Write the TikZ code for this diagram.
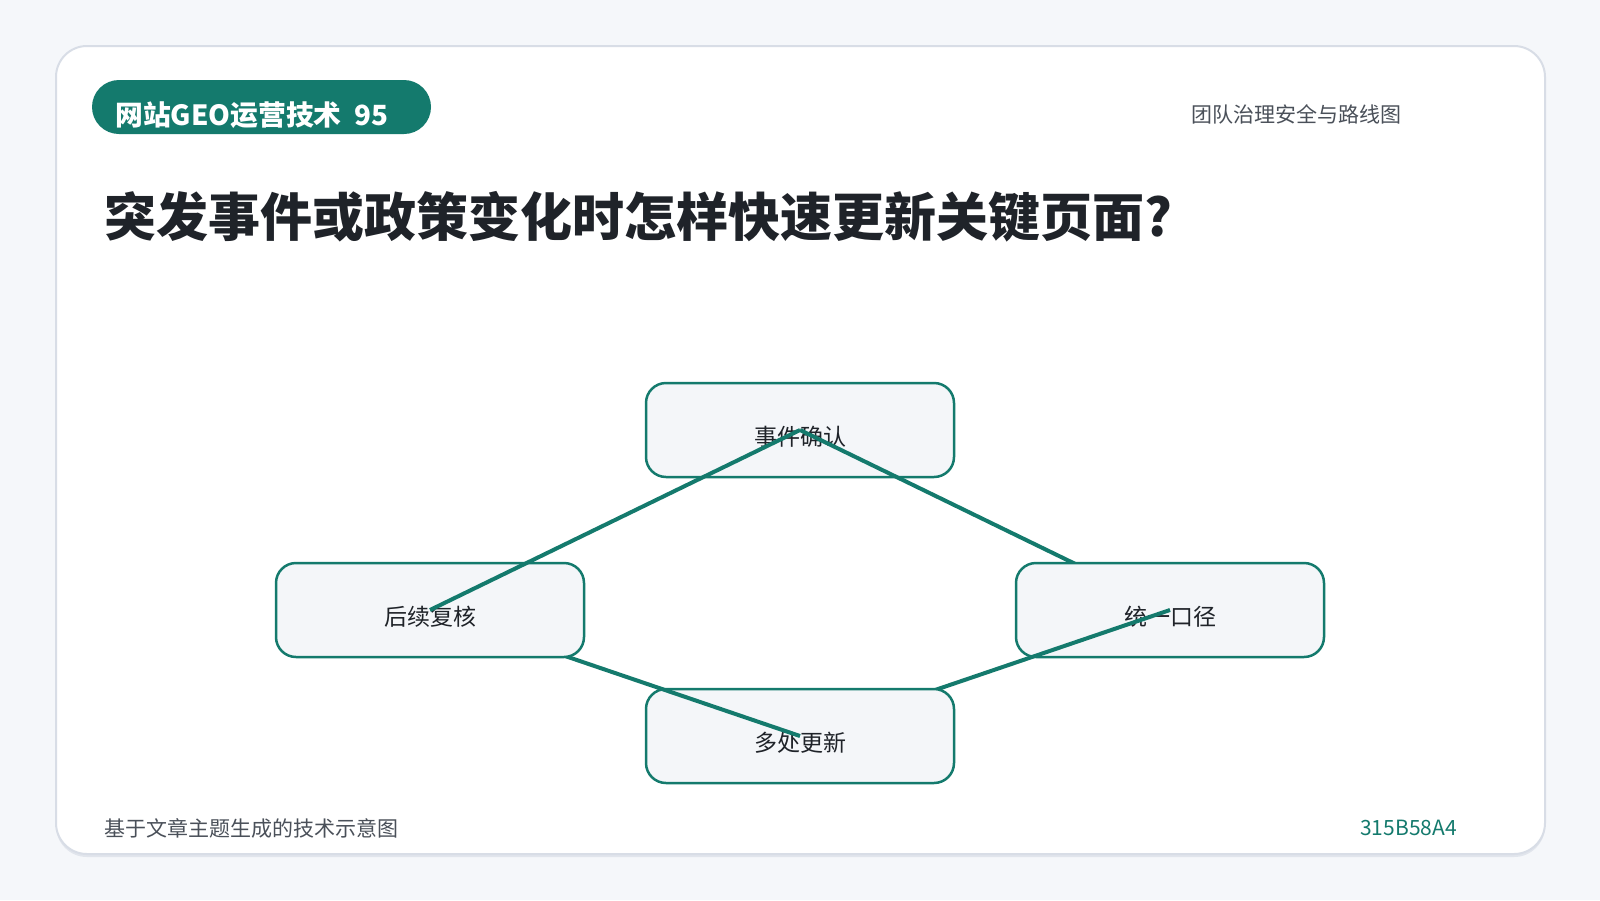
\documentclass[tikz,border=0pt]{standalone}
\usepackage{fontspec}
\setmainfont{Noto Sans CJK SC}
\usepackage{tikz}
\definecolor{PageGray}{HTML}{F5F7FA}
\definecolor{CardEdge}{HTML}{D8DDE6}
\definecolor{CardShade}{HTML}{E1E5EC}
\definecolor{GeoTeal}{HTML}{147A6D}
\definecolor{BoxFill}{HTML}{F4F6F9}
\definecolor{InkDark}{HTML}{1F2329}
\definecolor{InkGray}{HTML}{4A5059}
\newcommand{\Px}[1]{\fontsize{#1}{#1}\selectfont}
\usetikzlibrary{
	positioning,
	calc
}

\begin{document}
\begin{tikzpicture}[
		x=1pt, y=-1pt,
		stepbox/.style={draw=GeoTeal, line width=2.5pt, fill=BoxFill, rounded corners=20pt, minimum width=308pt, minimum height=94pt, text height=30pt, text depth=0pt, font=\Px{23}, text=InkDark},
		link/.style={draw=GeoTeal, line width=4pt},
		tag/.style={fill=GeoTeal, rounded corners=27pt, minimum width=339pt, minimum height=54pt},
		small/.style={font=\Px{21}, text=InkGray, inner sep=0pt}
	]

		\useasboundingbox (0,0) rectangle (1600,900);
		\fill[PageGray] (0,0) rectangle (1600,900);
		\fill[CardShade, rounded corners=31pt] (56,49) rectangle (1545,857);
		\filldraw[fill=white, draw=CardEdge, line width=2pt, rounded corners=31pt] (56,46) rectangle (1545,854);

		\node[tag] (pill) at (261.5,107) {};
		\node[anchor=west, inner sep=0pt, text=white, font=\Px{27.8}\bfseries] (series) at (115,115) {网站GEO运营技术\ \ 95};
		\node[small, anchor=west] (topic) at (1191,114) {团队治理安全与路线图};
		\node[anchor=west, inner sep=0pt, text=InkDark, font=\Px{52}\bfseries] (question) at (104,217) {突发事件或政策变化时怎样快速更新关键页面?};

		\coordinate (cconfirm) at (800,430);
		\coordinate (cunify) at (1170,610);
		\coordinate (cupdate) at (800,736);
		\coordinate (creview) at (430,610);

		\node[stepbox] (confirm) at (cconfirm) {事件确认};
		\path[link] (confirm.center) -- (cunify);
		\node[stepbox] (unify) at (cunify) {统一口径};
		\path[link] (unify.center) -- (cupdate);
		\node[stepbox] (update) at (cupdate) {多处更新};
		\path[link] (update.center) -- (creview);
		\node[stepbox] (review) at (creview) {后续复核};
		\path[link] (review.center) -- (confirm.center);

		\node[small, anchor=west] (note) at (104,828) {基于文章主题生成的技术示意图};
		\node[small, anchor=east, text=GeoTeal] (code) at (1457,828) {315B58A4};

	\end{tikzpicture}
\end{document}
